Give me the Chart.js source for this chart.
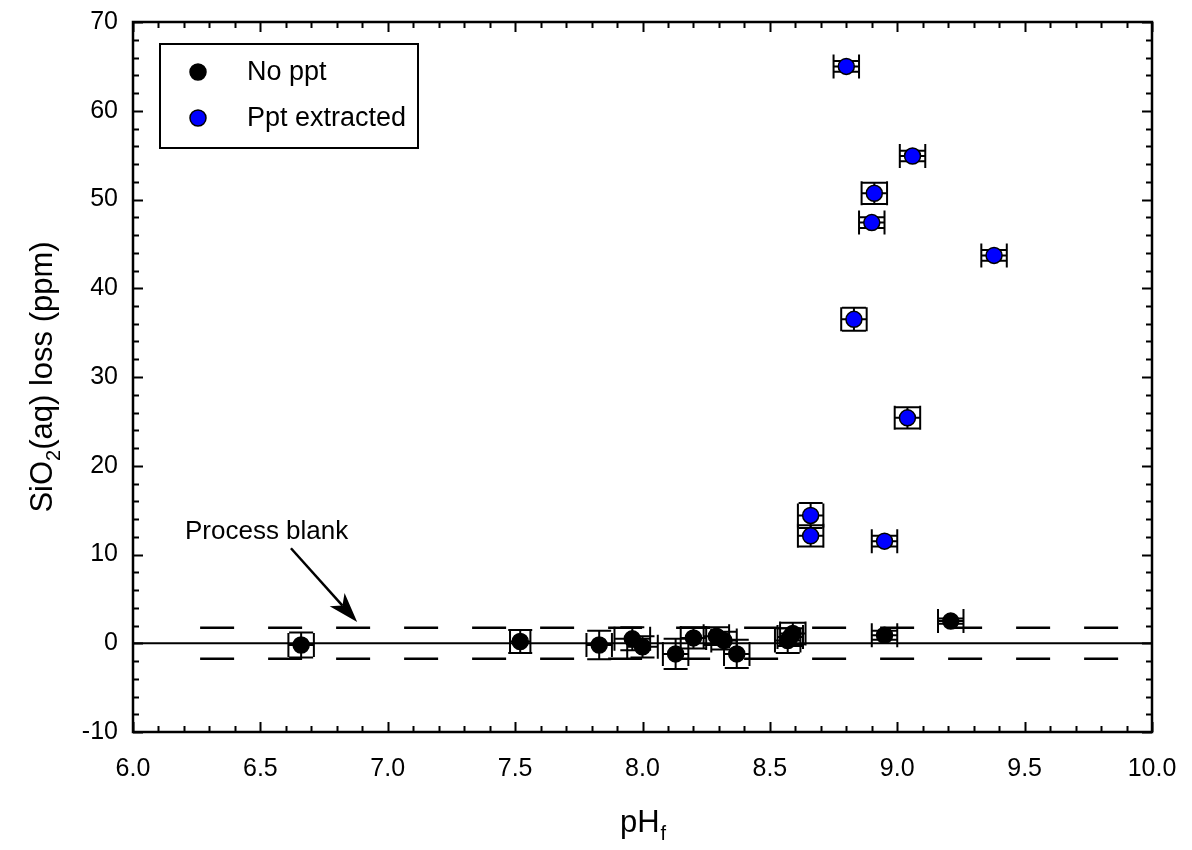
<!DOCTYPE html>
<html>
<head>
<meta charset="utf-8">
<script src="https://cdn.jsdelivr.net/npm/chart.js@4.4.1/dist/chart.umd.min.js"></script>
<style>
  html, body { margin: 0; padding: 0; background: #fff; }
  canvas { display: block; }
</style>
</head>
<body>
<canvas id="silicaChart" width="1192" height="850"></canvas>
<script>
// data
const noPptX = [6.66, 7.52, 7.83, 7.96, 8.00, 8.13, 8.20, 8.29, 8.32, 8.37, 8.57, 8.58, 8.59, 8.95, 9.21];
const noPptY = [-0.2, 0.2, -0.2, 0.5, -0.4, -1.2, 0.6, 0.8, 0.3, -1.2, 0.3, 0.7, 1.1, 0.9, 2.5];
const noPptXErr = [0.05, 0.04, 0.05, 0.07, 0.06, 0.05, 0.05, 0.05, 0.05, 0.05, 0.05, 0.05, 0.05, 0.05, 0.05];
const noPptYErr = [1.4, 1.3, 1.6, 1.3, 1.2, 1.7, 1.2, 1.0, 1.0, 1.6, 1.4, 1.0, 1.2, 0.5, 0.3];

const pptX = [8.80, 9.06, 8.91, 8.90, 9.38, 8.83, 9.04, 8.66, 8.66, 8.95];
const pptY = [65.0, 54.9, 50.7, 47.4, 43.7, 36.5, 25.4, 14.4, 12.1, 11.5];
const pptXErr = [0.05, 0.05, 0.05, 0.05, 0.05, 0.05, 0.05, 0.05, 0.05, 0.05];
const pptYErr = [0.6, 0.6, 1.2, 0.6, 0.6, 1.3, 1.2, 1.4, 1.2, 0.6];

const zeroX = [6.0, 10.0];
const blankX = [6.13, 10.0];
const blankLevel = 1.75;

const xTicks = [6.0, 6.5, 7.0, 7.5, 8.0, 8.5, 9.0, 9.5, 10.0];
const yTicks = [-10, 0, 10, 20, 30, 40, 50, 60, 70];

// annotation (data coords)
const blankLabel = { text: "Process blank", x: 6.845, y: 11.7 };
const arrowFrom = { x: 6.62, y: 10.7 };
const arrowTo = { x: 6.88, y: 2.4 };

const FONT = '"Liberation Sans", Arial, sans-serif';

const toPoints = (xs, ys) => xs.map((x, i) => ({ x, y: ys[i] }));

// inward ticks on all four sides, minor every 0.1 / 2
const frameTicks = {
  id: "frameTicks",
  afterDatasetsDraw(chart) {
    const { ctx, chartArea: a, scales } = chart;
    ctx.save();
    ctx.strokeStyle = "#000";
    ctx.lineWidth = 2;
    ctx.beginPath();
    for (let i = 60; i <= 100; i++) {
      const px = Math.round(scales.x.getPixelForValue(i / 10)) + 0.5;
      const len = i % 5 === 0 ? 10 : 6;
      ctx.moveTo(px, a.bottom); ctx.lineTo(px, a.bottom - len);
      ctx.moveTo(px, a.top); ctx.lineTo(px, a.top + len);
    }
    for (let v = -10; v <= 70; v += 2) {
      const py = Math.round(scales.y.getPixelForValue(v)) + 0.5;
      const len = v % 10 === 0 ? 10 : 6;
      ctx.moveTo(a.left, py); ctx.lineTo(a.left + len, py);
      ctx.moveTo(a.right, py); ctx.lineTo(a.right - len, py);
    }
    ctx.stroke();
    ctx.lineWidth = 2.5;
    ctx.strokeRect(a.left, a.top, a.right - a.left, a.bottom - a.top);
    ctx.restore();
  },
};

// x/y error bars with fixed-size caps
const errorBars = {
  id: "errorBars",
  beforeDatasetsDraw(chart) {
    const { ctx, scales } = chart;
    const cap = 12;
    ctx.save();
    ctx.strokeStyle = "#000";
    ctx.lineWidth = 2;
    chart.data.datasets.forEach(ds => {
      if (!ds.xErr) return;
      ds.data.forEach((p, i) => {
        const px = scales.x.getPixelForValue(p.x);
        const py = scales.y.getPixelForValue(p.y);
        const x0 = scales.x.getPixelForValue(p.x - ds.xErr[i]);
        const x1 = scales.x.getPixelForValue(p.x + ds.xErr[i]);
        const y0 = scales.y.getPixelForValue(p.y - ds.yErr[i]);
        const y1 = scales.y.getPixelForValue(p.y + ds.yErr[i]);
        ctx.beginPath();
        ctx.moveTo(x0, py); ctx.lineTo(x1, py);
        ctx.moveTo(x0, py - cap); ctx.lineTo(x0, py + cap);
        ctx.moveTo(x1, py - cap); ctx.lineTo(x1, py + cap);
        ctx.moveTo(px, y0); ctx.lineTo(px, y1);
        ctx.moveTo(px - cap, y0); ctx.lineTo(px + cap, y0);
        ctx.moveTo(px - cap, y1); ctx.lineTo(px + cap, y1);
        ctx.stroke();
      });
    });
    ctx.restore();
  },
};

// legend box, annotation, axis titles with subscripts
const extras = {
  id: "extras",
  afterDraw(chart) {
    const { ctx, chartArea: a, scales } = chart;
    ctx.save();

    // legend
    ctx.lineWidth = 2;
    ctx.strokeStyle = "#000";
    ctx.strokeRect(160, 44, 258, 104);
    const rows = [
      { label: "No ppt", color: "#000000", y: 72 },
      { label: "Ppt extracted", color: "#0000ff", y: 118 },
    ];
    ctx.font = "27px " + FONT;
    ctx.textBaseline = "middle";
    ctx.textAlign = "left";
    rows.forEach(r => {
      ctx.beginPath();
      ctx.arc(198, r.y, 8, 0, Math.PI * 2);
      ctx.fillStyle = r.color;
      ctx.fill();
      ctx.lineWidth = 1.5;
      ctx.stroke();
      ctx.fillStyle = "#000";
      ctx.fillText(r.label, 247, r.y + 1);
    });

    // process blank label + arrow
    ctx.font = "26px " + FONT;
    ctx.textAlign = "right";
    ctx.textBaseline = "alphabetic";
    ctx.fillText(blankLabel.text, scales.x.getPixelForValue(blankLabel.x), scales.y.getPixelForValue(blankLabel.y));
    const ax = scales.x.getPixelForValue(arrowFrom.x), ay = scales.y.getPixelForValue(arrowFrom.y);
    const bx = scales.x.getPixelForValue(arrowTo.x), by = scales.y.getPixelForValue(arrowTo.y);
    const ang = Math.atan2(by - ay, bx - ax);
    const headLen = 30, headW = 10;
    const hx = bx - headLen * Math.cos(ang), hy = by - headLen * Math.sin(ang);
    ctx.lineWidth = 2.5;
    ctx.beginPath();
    ctx.moveTo(ax, ay); ctx.lineTo(hx + 8 * Math.cos(ang), hy + 8 * Math.sin(ang));
    ctx.stroke();
    ctx.beginPath();
    ctx.moveTo(bx, by);
    ctx.lineTo(hx + headW * Math.sin(ang), hy - headW * Math.cos(ang));
    ctx.lineTo(hx + 8 * Math.cos(ang), hy + 8 * Math.sin(ang));
    ctx.lineTo(hx - headW * Math.sin(ang), hy + headW * Math.cos(ang));
    ctx.closePath();
    ctx.fill();

    // x title: pH_f
    const big = 31, small = 20;
    ctx.textAlign = "left";
    ctx.textBaseline = "alphabetic";
    ctx.font = big + "px " + FONT;
    const mainW = ctx.measureText("pH").width;
    ctx.font = small + "px " + FONT;
    const subW = ctx.measureText("f").width;
    const cx = (a.left + a.right) / 2;
    const sx = cx - (mainW + subW) / 2;
    const base = 832;
    ctx.font = big + "px " + FONT;
    ctx.fillText("pH", sx, base);
    ctx.font = small + "px " + FONT;
    ctx.fillText("f", sx + mainW + 1, base + 8);

    // y title: SiO2(aq) loss (ppm)
    const parts = [
      { t: "SiO", s: big, dy: 0 },
      { t: "2", s: small, dy: 8 },
      { t: "(aq) loss (ppm)", s: big, dy: 0 },
    ];
    let total = 0;
    parts.forEach(p => { ctx.font = p.s + "px " + FONT; p.w = ctx.measureText(p.t).width; total += p.w; });
    ctx.translate(52, (a.top + a.bottom) / 2);
    ctx.rotate(-Math.PI / 2);
    let tx = -total / 2;
    parts.forEach(p => {
      ctx.font = p.s + "px " + FONT;
      ctx.fillText(p.t, tx, p.dy);
      tx += p.w;
    });
    ctx.restore();
  },
};

new Chart(document.getElementById("silicaChart"), {
  type: "scatter",
  data: {
    datasets: [
      {
        label: "zero",
        type: "line",
        data: toPoints(zeroX, [0, 0]),
        borderColor: "#000",
        borderWidth: 2,
        pointRadius: 0,
        order: 5,
      },
      {
        label: "blank+",
        type: "line",
        data: toPoints(blankX, [blankLevel, blankLevel]),
        borderColor: "#000",
        borderWidth: 2.5,
        borderDash: [34, 34],
        borderDashOffset: 34,
        pointRadius: 0,
        order: 5,
      },
      {
        label: "blank-",
        type: "line",
        data: toPoints(blankX, [-blankLevel, -blankLevel]),
        borderColor: "#000",
        borderWidth: 2.5,
        borderDash: [34, 34],
        borderDashOffset: 34,
        pointRadius: 0,
        order: 5,
      },
      {
        label: "No ppt",
        data: toPoints(noPptX, noPptY),
        xErr: noPptXErr,
        yErr: noPptYErr,
        backgroundColor: "#000000",
        borderColor: "#000000",
        borderWidth: 1.5,
        pointRadius: 8,
        order: 2,
      },
      {
        label: "Ppt extracted",
        data: toPoints(pptX, pptY),
        xErr: pptXErr,
        yErr: pptYErr,
        backgroundColor: "#0000ff",
        borderColor: "#000000",
        borderWidth: 1.5,
        pointRadius: 8,
        order: 1,
      },
    ],
  },
  options: {
    responsive: false,
    animation: false,
    devicePixelRatio: 1,
    layout: { padding: { top: 22, right: 40, left: 0, bottom: 0 } },
    plugins: { legend: { display: false }, tooltip: { enabled: false } },
    scales: {
      x: {
        type: "linear",
        min: 6,
        max: 10,
        afterBuildTicks: s => { s.ticks = xTicks.map(v => ({ value: v })); },
        afterFit: s => { s.height = 118; s.paddingLeft = 0; s.paddingRight = 0; },
        grid: { display: false, drawTicks: false },
        border: { display: false },
        ticks: {
          color: "#000",
          font: { family: FONT, size: 25 },
          padding: 22,
          maxRotation: 0,
          callback: v => v.toFixed(1),
        },
      },
      y: {
        type: "linear",
        min: -10,
        max: 70,
        afterBuildTicks: s => { s.ticks = yTicks.map(v => ({ value: v })); },
        afterFit: s => { s.width = 133; s.paddingTop = 0; s.paddingBottom = 0; },
        grid: { display: false, drawTicks: false },
        border: { display: false },
        ticks: {
          color: "#000",
          font: { family: FONT, size: 25 },
          padding: 15,
        },
      },
    },
  },
  plugins: [errorBars, frameTicks, extras],
});
</script>
</body>
</html>
